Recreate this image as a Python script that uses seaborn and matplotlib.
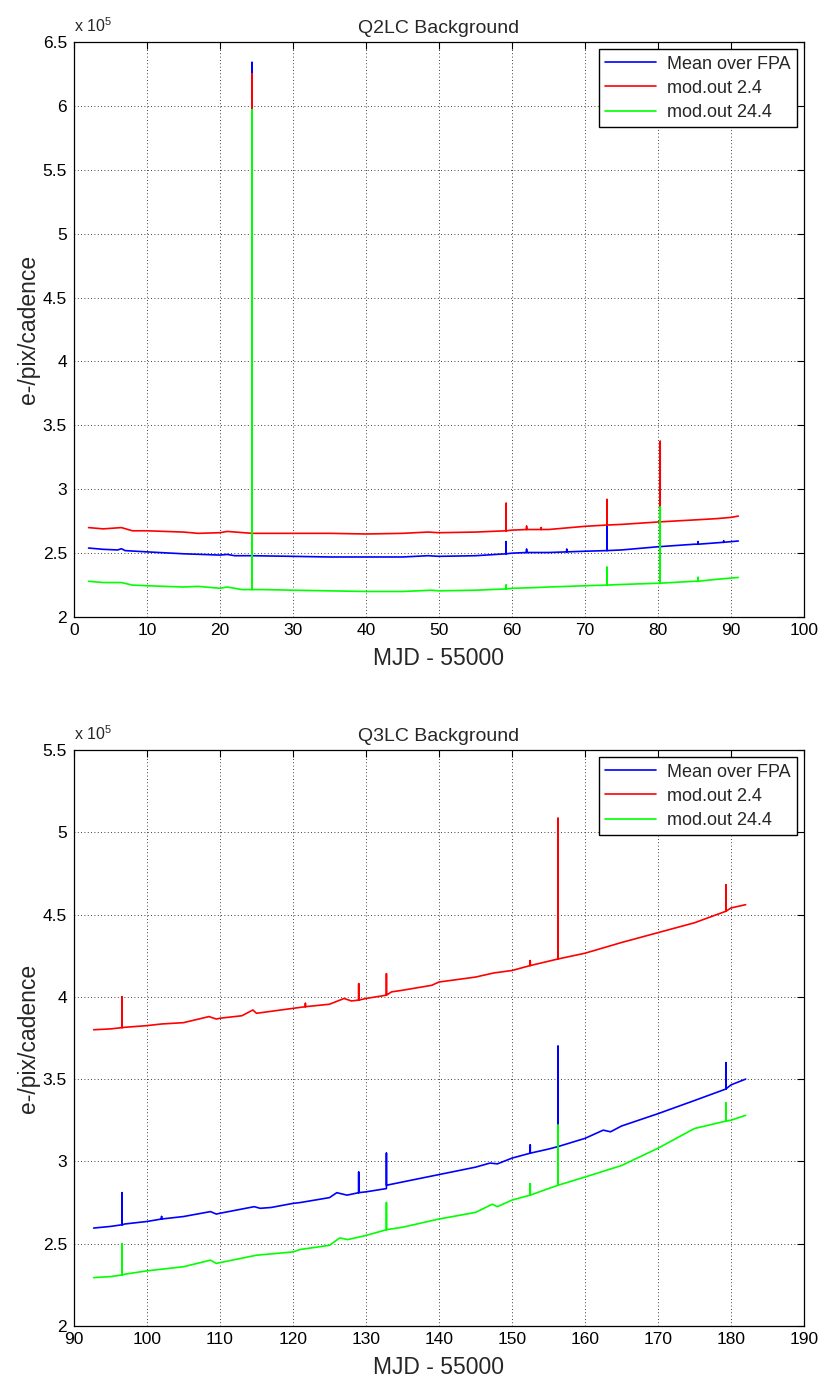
import matplotlib
matplotlib.use("Agg")
import matplotlib.pyplot as plt
import seaborn as sns
from matplotlib.ticker import FuncFormatter, MultipleLocator

# -------------------------------
# Data (values in units of 1e5 e-/pix/cadence)
# spikes are written as (x, base), (x, peak), (x, base)
# -------------------------------

# Q2 long cadence
q2_mean_x = [2.0, 4.0, 6.0, 6.5, 7.0, 10, 15, 20, 21, 22, 24.4, 24.4, 24.4, 30, 35, 40, 45, 48.5, 50, 55,
             59.2, 59.2, 59.2, 60, 62, 62, 62, 65, 67.5, 67.5, 67.5, 70, 73, 73, 73, 75, 80, 85,
             85.5, 85.5, 85.5, 89, 89, 89, 90, 91]
q2_mean_y = [2.54, 2.53, 2.525, 2.535, 2.52, 2.51, 2.495, 2.485, 2.49, 2.48, 2.48, 6.34, 2.48, 2.475, 2.47, 2.47, 2.47, 2.48, 2.475, 2.48,
             2.495, 2.59, 2.495, 2.50, 2.505, 2.53, 2.505, 2.505, 2.51, 2.53, 2.51, 2.515, 2.52, 2.71, 2.52, 2.525, 2.55, 2.57,
             2.57, 2.59, 2.57, 2.585, 2.595, 2.585, 2.59, 2.595]

q2_mod24_x = [2.0, 4, 6.5, 8, 10, 15, 17, 20, 21, 24.4, 24.4, 24.4, 30, 35, 40, 45, 48.5, 50, 55,
              59.2, 59.2, 59.2, 60, 62, 62, 62, 64, 64, 64, 65, 70, 73, 73, 73, 75, 80.3, 80.3, 80.3,
              85, 88, 90, 91]
q2_mod24_y = [2.70, 2.69, 2.70, 2.675, 2.675, 2.665, 2.655, 2.66, 2.67, 2.655, 6.25, 2.655, 2.655, 2.655, 2.65, 2.655, 2.665, 2.66, 2.665,
              2.675, 2.89, 2.675, 2.68, 2.685, 2.71, 2.685, 2.685, 2.70, 2.685, 2.685, 2.71, 2.72, 2.92, 2.72, 2.725, 2.745, 3.375, 2.745,
              2.76, 2.77, 2.78, 2.79]

q2_mod244_x = [2, 4, 6.5, 8, 10, 15, 17, 20, 21, 23, 24.4, 24.4, 24.4, 26, 30, 35, 40, 45, 49, 50, 55,
               59.2, 59.2, 59.2, 60, 63, 65, 70, 73, 73, 73, 75, 80.3, 80.3, 80.3, 85, 85.5, 85.5, 85.5,
               88, 90, 91]
q2_mod244_y = [2.28, 2.27, 2.27, 2.25, 2.245, 2.235, 2.24, 2.225, 2.235, 2.215, 2.215, 5.97, 2.215, 2.215, 2.21, 2.205, 2.20, 2.20, 2.21, 2.205, 2.21,
               2.22, 2.25, 2.22, 2.225, 2.23, 2.235, 2.245, 2.25, 2.39, 2.25, 2.255, 2.265, 2.86, 2.265, 2.28, 2.28, 2.31, 2.28,
               2.295, 2.305, 2.31]

# Q3 long cadence
q3_mean_x = [92.7, 95, 96.6, 96.6, 96.6, 97, 100, 102, 102, 102, 105, 108.7, 109.5, 110, 114.7, 115.5, 117, 120, 121,
             125, 126, 127.4, 129.0, 129.0, 129.0, 130, 132.8, 132.8, 132.8, 135, 140, 145, 147, 148, 150,
             152.5, 152.5, 152.5, 155, 156.3, 156.3, 156.3, 160, 162.5, 163.5, 165, 170, 175,
             179.3, 179.3, 179.3, 180, 182]
q3_mean_y = [2.595, 2.605, 2.615, 2.81, 2.615, 2.62, 2.635, 2.65, 2.665, 2.65, 2.665, 2.695, 2.68, 2.685, 2.725, 2.715, 2.72, 2.745, 2.75,
             2.78, 2.81, 2.795, 2.81, 2.935, 2.81, 2.815, 2.835, 3.05, 2.855, 2.875, 2.92, 2.965, 2.99, 2.985, 3.02,
             3.05, 3.10, 3.05, 3.075, 3.09, 3.70, 3.09, 3.14, 3.19, 3.18, 3.215, 3.29, 3.37,
             3.44, 3.60, 3.44, 3.465, 3.50]

q3_mod24_x = [92.7, 95, 96.6, 96.6, 96.6, 97, 100, 102, 105, 108.5, 109.5, 110, 113, 114.5, 115, 120,
              121.7, 121.7, 121.7, 125, 127, 128, 129, 129, 129, 130, 132.8, 132.8, 132.8, 133.5, 135, 139,
              140, 145, 147.5, 150, 152.5, 152.5, 152.5, 156.3, 156.3, 156.3, 160, 165, 170, 175,
              179.3, 179.3, 179.3, 180, 182]
q3_mod24_y = [3.80, 3.805, 3.813, 4.00, 3.813, 3.815, 3.825, 3.835, 3.843, 3.88, 3.865, 3.87, 3.885, 3.92, 3.90, 3.93,
              3.94, 3.96, 3.94, 3.955, 3.99, 3.975, 3.98, 4.08, 3.98, 3.99, 4.01, 4.14, 4.01, 4.03, 4.04, 4.07,
              4.09, 4.12, 4.145, 4.16, 4.19, 4.22, 4.19, 4.23, 5.085, 4.23, 4.265, 4.33, 4.39, 4.45,
              4.52, 4.68, 4.52, 4.54, 4.56]

q3_mod244_x = [92.7, 95, 96.6, 96.6, 96.6, 97, 100, 105, 108.7, 109.5, 110, 115, 120, 121, 125, 126.4, 127.5, 130,
               132.8, 132.8, 132.8, 135, 140, 145, 147.3, 148, 150, 152.5, 152.5, 152.5, 155,
               156.3, 156.3, 156.3, 160, 165, 170, 175, 179.3, 179.3, 179.3, 180, 182]
q3_mod244_y = [2.294, 2.30, 2.31, 2.50, 2.31, 2.315, 2.335, 2.36, 2.40, 2.38, 2.385, 2.43, 2.45, 2.465, 2.49, 2.535, 2.525, 2.55,
               2.585, 2.75, 2.585, 2.60, 2.65, 2.69, 2.74, 2.725, 2.765, 2.795, 2.865, 2.795, 2.835,
               2.855, 3.22, 2.855, 2.905, 2.975, 3.08, 3.20, 3.245, 3.355, 3.245, 3.25, 3.28]

legend_labels = ["Mean over FPA", "mod.out 2.4", "mod.out 24.4"]
line_colors = ["#0000ff", "#ff0000", "#00ff00"]

# -------------------------------
# Style
# -------------------------------
sns.set_style("white")
plt.rcParams["font.family"] = ["Liberation Sans", "DejaVu Sans"]
plt.rcParams["mathtext.fontset"] = "custom"
plt.rcParams["mathtext.rm"] = "Liberation Sans"
plt.rcParams["mathtext.it"] = "Liberation Sans"

fig = plt.figure(figsize=(8.21, 13.86), dpi=100)
ax1 = fig.add_axes([0.0901, 0.5548, 0.8892, 0.4149])
ax2 = fig.add_axes([0.0901, 0.0433, 0.8892, 0.4156])

panels = [
    (ax1, "Q2LC Background", [(q2_mean_x, q2_mean_y), (q2_mod24_x, q2_mod24_y), (q2_mod244_x, q2_mod244_y)],
     (0, 100), (2, 6.5)),
    (ax2, "Q3LC Background", [(q3_mean_x, q3_mean_y), (q3_mod24_x, q3_mod24_y), (q3_mod244_x, q3_mod244_y)],
     (90, 190), (2, 5.5)),
]

for ax, title, series, xlim, ylim in panels:
    for (xs, ys), lab, col in zip(series, legend_labels, line_colors):
        sns.lineplot(x=xs, y=ys, ax=ax, estimator=None, sort=False,
                     color=col, linewidth=1.2, label=lab)

    ax.set_xlim(*xlim)
    ax.set_ylim(*ylim)
    ax.xaxis.set_major_locator(MultipleLocator(10))
    ax.yaxis.set_major_locator(MultipleLocator(0.5))
    ax.yaxis.set_major_formatter(FuncFormatter(lambda v, p: "%g" % v))
    ax.xaxis.set_major_formatter(FuncFormatter(lambda v, p: "%g" % v))

    ax.grid(True, color="black", linestyle=(0, (1, 3)), linewidth=0.6)
    ax.tick_params(direction="in", length=5, width=0.8, top=True, right=True,
                   labelsize=12.5, colors="black")
    ax.tick_params(axis="x", pad=4)
    ax.tick_params(axis="y", pad=5)
    for sp in ax.spines.values():
        sp.set_color("black")
        sp.set_linewidth(0.9)

    ax.set_title(title, fontsize=14, pad=6.5)
    ax.set_xlabel("MJD - 55000", fontsize=16.5, labelpad=7)
    ax.set_ylabel("e-/pix/cadence", fontsize=16.5, labelpad=2)

    ax.annotate(r"x 10$^{5}$", xy=(0, 1), xycoords="axes fraction",
                xytext=(0, 5), textcoords="offset points",
                ha="left", va="bottom", fontsize=11.5)

    leg = ax.legend(loc="upper right", fontsize=13, frameon=True, fancybox=False,
                    framealpha=1, edgecolor="black", borderaxespad=0.4,
                    handlelength=2.8, handletextpad=0.6, borderpad=0.35,
                    labelspacing=0.4)
    leg.get_frame().set_linewidth(1.0)

fig.savefig("out.png", dpi=100)
